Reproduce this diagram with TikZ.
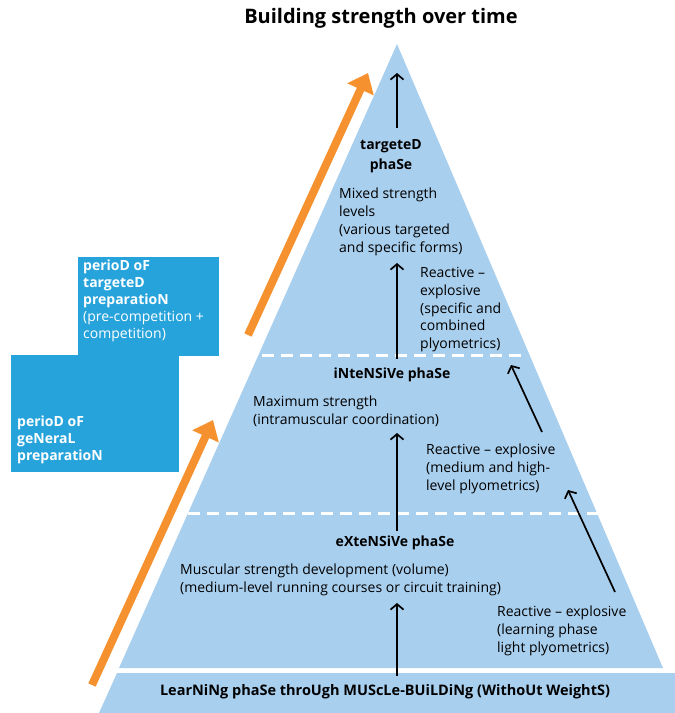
\documentclass[tikz,border=0pt]{standalone}
\usepackage{fontspec}
\setmainfont{Open Sans}
\usetikzlibrary{arrows.meta}
\definecolor{triblue}{HTML}{A9CFEE}
\definecolor{boxblue}{HTML}{27A3DC}
\definecolor{orangeA}{HTML}{F5922F}
\begin{document}
\begin{tikzpicture}[x=1pt,y=-1pt,
  txt/.style={font=\fontsize{14}{17.8}\selectfont, inner sep=0pt, align=left, anchor=north west},
  phase/.style={font=\fontsize{14}{19.5}\selectfont\bfseries, inner sep=0pt, align=center},
  uparrow/.style={line width=1.7pt, -{Straight Barb[length=5.5pt,width=13pt]}},
  orangearrow/.style={line width=8pt, orangeA, -{Triangle[length=18pt,width=28pt]}},
  divider/.style={white, line width=3pt, dash pattern=on 12pt off 7pt},
  boxtxt/.style={font=\fontsize{14}{17}\selectfont, text=white, inner sep=0pt, align=left, anchor=north west}]
\useasboundingbox (0,0) rectangle (675,713);
% pyramid
\fill[triblue] (397,44) -- (119,668) -- (663,668) -- cycle;
\fill[triblue] (117,673) -- (99,713) -- (675,713) -- (675,673) -- cycle;
\draw[divider] (262,355) -- (525,355);
\draw[divider] (188,513) -- (599,513);
% side boxes
\fill[boxblue] (78,257) rectangle (219,356);
\fill[boxblue] (11,355) rectangle (179,472);
\node[boxtxt] (tgtbox) at (83,260) {\textbf{perioD oF}\\\textbf{targeteD}\\\textbf{preparatioN}\\(pre-competition +\\competition)};
\node[boxtxt] (genbox) at (17,416) {\textbf{perioD oF}\\\textbf{geNeraL}\\\textbf{preparatioN}};
% orange arrows
\coordinate (o1s) at (248,335); \coordinate (o1e) at (368,73);
\coordinate (o2s) at (92,685); \coordinate (o2e) at (213,420);
\draw[orangearrow] (o1s) -- (o1e);
\draw[orangearrow] (o2s) -- (o2e);
% title
\node[font=\fontsize{20}{24}\selectfont\bfseries, inner sep=0pt] (title) at (381,18) {Building strength over time};
% texts
\node[phase] (tphase) at (391,156) {targeteD\\phaSe};
\node[txt] (mixed) at (339,188) {Mixed strength\\levels\\(various targeted\\and specific forms)};
\node[txt] (re1) at (420,267) {Reactive –\\explosive\\(specific and\\combined\\plyometrics)};
\node[phase] (iphase) at (392,375) {iNteNSiVe phaSe};
\node[txt] (maxs) at (253,396) {Maximum strength\\(intramuscular coordination)};
\node[txt] (re2) at (426,444) {Reactive – explosive\\(medium and high-\\level plyometrics)};
\node[phase] (ephase) at (395,543) {eXteNSiVe phaSe};
\node[txt] (musc) at (180,564) {Muscular strength development (volume)\\(medium-level running courses or circuit training)};
\node[txt] (re3) at (497,606) {Reactive – explosive\\(learning phase\\light plyometrics)};
\node[phase, font=\fontsize{14.5}{18}\selectfont\bfseries] (lphase) at (385,692) {LearNiNg phaSe throUgh MUScLe-BUiLDiNg (WithoUt WeightS)};
% black arrows
\coordinate (a1s) at (397,676); \coordinate (a1e) at (397,603);
\coordinate (a2s) at (397,531); \coordinate (a2e) at (397,433);
\coordinate (a3s) at (397,359); \coordinate (a3e) at (397,263);
\coordinate (a4s) at (397,128); \coordinate (a4e) at (397,73);
\coordinate (d1s) at (615,592); \coordinate (d1e) at (568,490);
\coordinate (d2s) at (542,432); \coordinate (d2e) at (511,365);
\draw[uparrow] (a1s) -- (a1e);
\draw[uparrow] (a2s) -- (a2e);
\draw[uparrow] (a3s) -- (a3e);
\draw[uparrow] (a4s) -- (a4e);
\draw[uparrow] (d1s) -- (d1e);
\draw[uparrow] (d2s) -- (d2e);
\end{tikzpicture}
\end{document}
